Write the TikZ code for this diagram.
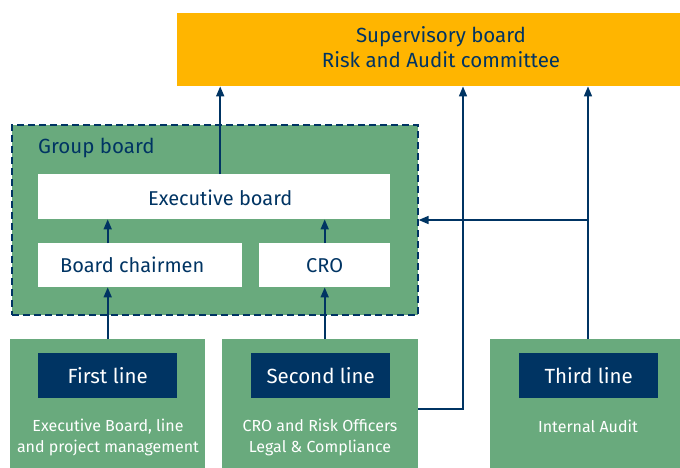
\documentclass[tikz,border=0pt]{standalone}
\usepackage{fontspec}
\setmainfont{Fira Sans}
\usetikzlibrary{arrows.meta}
\definecolor{grn}{HTML}{69AA7D}
\definecolor{navy}{HTML}{003463}
\definecolor{orng}{HTML}{FFB500}
\tikzset{
  whitebox/.style={fill=white, draw=none, inner sep=0pt, anchor=north west},
  darkbox/.style={fill=navy, draw=none, inner sep=0pt, anchor=north west},
  greenbox/.style={fill=grn, draw=none, inner sep=0pt, anchor=north west},
  bluetext/.style={text=navy, inner sep=0pt, font=\fontsize{20}{24}\selectfont},
  whitetext/.style={text=white, inner sep=0pt, font=\fontsize{20.5}{24}\selectfont},
  subtext/.style={text=white, align=center, inner sep=0pt, font=\fontsize{16}{21}\selectfont},
  conn/.style={draw=navy, line width=1.6pt},
  arr/.style={conn, -{Triangle[length=10pt,width=8pt]}},
}
\begin{document}
\begin{tikzpicture}[x=1pt,y=-1pt]
\useasboundingbox (0,0) rectangle (680,468);
% supervisory board
\node[fill=orng, inner sep=0pt, anchor=north west, minimum width=528pt, minimum height=73pt] (sup) at (177,13) {};
\node[text=navy, align=center, inner sep=0pt, font=\fontsize{20.5}{25}\selectfont] (suptext) at (441,47) {Supervisory board\\Risk and Audit committee};
% group board
\node[greenbox, draw=navy, dashed, dash pattern=on 7pt off 4pt, line width=1.6pt, minimum width=406pt, minimum height=190pt] (group) at (11,124) {};
\node[bluetext, anchor=west, font=\fontsize{20.5}{24}\selectfont] (grouplbl) at (38,148) {Group board};
\node[whitebox, minimum width=352pt, minimum height=45pt] (exec) at (38,174) {};
\node[bluetext] (exectext) at ([xshift=6pt,yshift=-1pt]exec.center) {Executive board};
\node[whitebox, minimum width=204pt, minimum height=44pt] (chair) at (38,243) {};
\node[bluetext] (chairtext) at ([xshift=-8pt]chair.center) {Board chairmen};
\node[whitebox, minimum width=131pt, minimum height=44pt] (cro) at (259,243) {};
\node[bluetext] (crotext) at (cro.center) {CRO};
% bottom boxes
\node[greenbox, minimum width=195pt, minimum height=140pt] (first) at (10,339) {};
\node[greenbox, minimum width=196pt, minimum height=140pt] (second) at (222,339) {};
\node[greenbox, minimum width=200pt, minimum height=140pt] (third) at (490,339) {};
\node[darkbox, minimum width=139pt, minimum height=45pt] (firstlbl) at (38,353) {};
\node[whitetext] at (firstlbl.center) {First line};
\node[darkbox, minimum width=139pt, minimum height=45pt] (secondlbl) at (251,353) {};
\node[whitetext] at (secondlbl.center) {Second line};
\node[darkbox, minimum width=139pt, minimum height=45pt] (thirdlbl) at (519,353) {};
\node[whitetext] at (thirdlbl.center) {Third line};
\node[subtext] (firsttext) at (108,437) {Executive Board, line\\and project management};
\node[subtext] (secondtext) at (320,437) {CRO and Risk Officers\\Legal \& Compliance};
\node[subtext] (thirdtext) at (588,426) {Internal Audit};
% connectors
\draw[arr] ([xshift=6pt]exec.north) -- ([xshift=6pt]exec.north |- sup.south);
\draw[arr] (first.north) -- (first.north |- chair.south);
\draw[arr] (first.north |- chair.north) -- (first.north |- exec.south);
\draw[arr] (cro.south |- second.north) -- (cro.south);
\draw[arr] (cro.north) -- (cro.north |- exec.south);
\coordinate (sturn) at (463,409);
\draw[arr] (second.east |- sturn) -- (sturn) -- (sturn |- sup.south);
\coordinate (tbase) at (588,339);
\coordinate (tjoin) at (588,220);
\draw[arr] (tbase) -- (tbase |- sup.south);
\draw[arr] (tjoin) -- (tjoin -| group.east);
\end{tikzpicture}
\end{document}
